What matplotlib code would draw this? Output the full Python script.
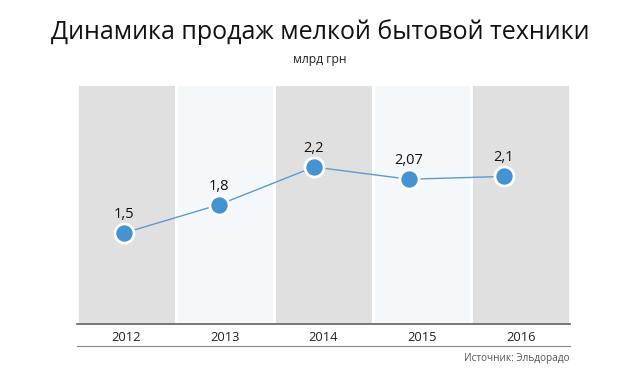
import matplotlib
matplotlib.use('Agg')
import matplotlib.pyplot as plt

YEARS = ['2012', '2013', '2014', '2015', '2016']
SALES = [1.5, 1.8, 2.2, 2.07, 2.1]
LABELS = ['1,5', '1,8', '2,2', '2,07', '2,1']

plt.rcParams['font.family'] = ['Open Sans', 'DejaVu Sans']

fig = plt.figure(figsize=(6.4, 3.81), dpi=100)
ax = fig.add_axes([0.1203, 0.1496, 0.7703, 0.6299])

# полосы фона
band_colors = ['#e0e0e0', '#f5f8fb']
for i in range(len(YEARS)):
    ax.axvspan(i - 0.5, i + 0.5, facecolor=band_colors[i % 2], edgecolor='white', linewidth=2, zorder=0)

x = list(range(len(YEARS)))
ax.set_xlim(-0.5, len(YEARS) - 0.5)
ax.set_ylim(0.535, 3.08)
ax.set_xticks(x)
ax.set_xticklabels(YEARS, fontsize=9.3, color='#222222')
ax.tick_params(axis='x', length=0, pad=5)
ax.set_yticks([])
for s in ['top', 'left', 'right']:
    ax.spines[s].set_visible(False)
ax.spines['bottom'].set_color('#606060')
ax.spines['bottom'].set_linewidth(1.2)

# линия с точками (в оригинале шаг точек чуть уже шага полос)
ax2 = fig.add_axes(ax.get_position(), frameon=False)
ax2.set_xlim(-0.495, 4.695)
ax2.set_ylim(ax.get_ylim())
ax2.set_xticks([])
ax2.set_yticks([])
ax2.plot(x, SALES, color='#5b9bd0', linewidth=1, zorder=2)
ax2.scatter(x, SALES, s=190, color='#4593d0', edgecolors='white', linewidths=2, zorder=3, clip_on=False)
for xi, v, lab in zip(x, SALES, LABELS):
    ax2.annotate(lab, (xi, v), xytext=(0, 8), textcoords='offset points',
                 ha='center', va='bottom', fontsize=10.5, color='#111111')

# нижняя линия под подписями лет
ax.plot([0, 1], [-0.0917, -0.0917], transform=ax.transAxes, color='#888888',
        linewidth=0.8, clip_on=False)

fig.text(0.5, 0.915, 'Динамика продаж мелкой бытовой техники', ha='center', va='center',
         fontsize=18, color='#111111')
fig.text(0.5, 0.845, 'млрд грн', ha='center', va='center', fontsize=8.7, color='#222222')
fig.text(0.8906, 0.06, 'Источник: Эльдорадо', ha='right', va='center', fontsize=7.2, color='#555555')

fig.savefig('out.png', dpi=100)
